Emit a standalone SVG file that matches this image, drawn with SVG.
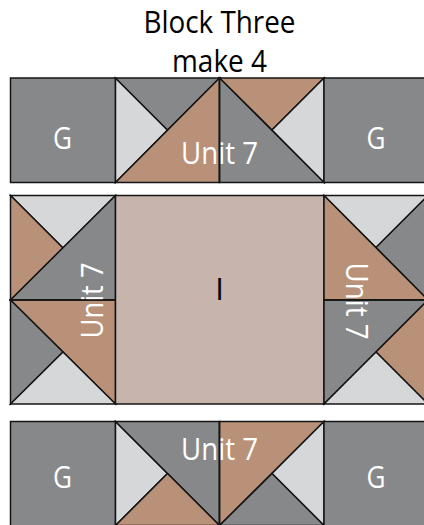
<svg xmlns="http://www.w3.org/2000/svg" width="424" height="525" viewBox="0 0 424 525">
<style>
polygon,rect,line{stroke:#141414;stroke-width:1.5;stroke-linejoin:miter}
.g{fill:#87888a}.t{fill:#b89178}.l{fill:#d6d7d9}
.c{fill:#c7b5ad}
text{font-family:"Open Sans","Noto Sans",sans-serif;text-anchor:middle;font-weight:400}
.w{fill:#fff;font-size:31px}
.k{fill:#000;font-size:31px}
</style>
<g id="title"><text class="k" x="219.500" y="33" textLength="152" lengthAdjust="spacingAndGlyphs">Block Three</text><text class="k" x="219.500" y="72" textLength="95" lengthAdjust="spacingAndGlyphs">make 4</text></g>
<g id="top-row">
<g id="g-top-left"><rect class="g" x="10.500" y="78" width="105" height="104.500"/><text class="w" x="62.500" y="149" textLength="19" lengthAdjust="spacingAndGlyphs">G</text></g>
<g id="unit-top-a"><polygon class="l" points="115.500,78 167.500,130 115.500,182.500"/><polygon class="g" points="115.500,78 219.500,78 167.500,130"/><polygon class="t" points="115.500,182.500 219.500,78 219.500,182.500"/></g>
<g id="unit-top-b"><polygon class="t" points="219.500,78 324,78 272,130"/><polygon class="l" points="324,78 324,182.500 272,130"/><polygon class="g" points="219.500,78 219.500,182.500 324,182.500"/></g>
<g id="g-top-right"><rect class="g" x="324" y="78" width="104" height="104.500"/><text class="w" x="376" y="149" textLength="19" lengthAdjust="spacingAndGlyphs">G</text></g>
<text class="w" x="219.500" y="163.500" textLength="77" lengthAdjust="spacingAndGlyphs">Unit 7</text>
<line x1="219.500" y1="78" x2="219.500" y2="182.500"/>
</g>
<g id="middle-row">
<g id="unit-left-a"><polygon class="l" points="10.500,195.500 115.500,195.500 63,248"/><polygon class="t" points="10.500,195.500 10.500,300 63,248"/><polygon class="g" points="10.500,300 115.500,195.500 115.500,300"/></g>
<g id="unit-left-b"><polygon class="t" points="10.500,300 115.500,300 115.500,404"/><polygon class="g" points="10.500,300 63,352 10.500,404"/><polygon class="l" points="10.500,404 63,352 115.500,404"/></g>
<text class="w" transform="translate(102.700 300.500) rotate(-90)" textLength="76" lengthAdjust="spacingAndGlyphs">Unit 7</text>
<line x1="10.500" y1="300" x2="115.500" y2="300"/>
<g id="block-i"><rect class="c" x="115.500" y="195.500" width="208.500" height="208.500"/><text class="k" x="219.500" y="300">I</text></g>
<g id="unit-right-a"><polygon class="l" points="324,195.500 428,195.500 376,247.500"/><polygon class="g" points="428,195.500 428,300 376,247.500"/><polygon class="t" points="324,195.500 324,300 428,300"/></g>
<g id="unit-right-b"><polygon class="g" points="324,300 428,300 376,352 324,404"/><polygon class="t" points="428,300 428,404 376,352"/><polygon class="l" points="324,404 428,404 376,352"/></g>
<text class="w" transform="translate(346 301) rotate(90)" textLength="77" lengthAdjust="spacingAndGlyphs">Unit 7</text>
<line x1="324" y1="300" x2="428" y2="300"/>
</g>
<g id="bottom-row">
<g id="g-bottom-left"><rect class="g" x="10.500" y="421.500" width="105" height="105"/><text class="w" x="62.500" y="488" textLength="19" lengthAdjust="spacingAndGlyphs">G</text></g>
<g id="unit-bottom-a"><polygon class="l" points="115.500,421.500 167.500,473.500 115.500,525.500"/><polygon class="g" points="115.500,421.500 219.500,421.500 219.500,525.500"/><polygon class="t" points="115.500,525.500 167.500,473.500 219.500,525.500"/></g>
<g id="unit-bottom-b"><polygon class="t" points="219.500,421.500 324,421.500 219.500,525.500"/><polygon class="l" points="324,421.500 272,473.500 324,525.500"/><polygon class="g" points="219.500,525.500 272,473.500 324,525.500"/></g>
<g id="g-bottom-right"><rect class="g" x="324" y="421.500" width="104" height="105"/><text class="w" x="376" y="488" textLength="19" lengthAdjust="spacingAndGlyphs">G</text></g>
<text class="w" x="219.500" y="460" textLength="77" lengthAdjust="spacingAndGlyphs">Unit 7</text>
<line x1="219.500" y1="421.500" x2="219.500" y2="525.500"/>
</g>
</svg>
